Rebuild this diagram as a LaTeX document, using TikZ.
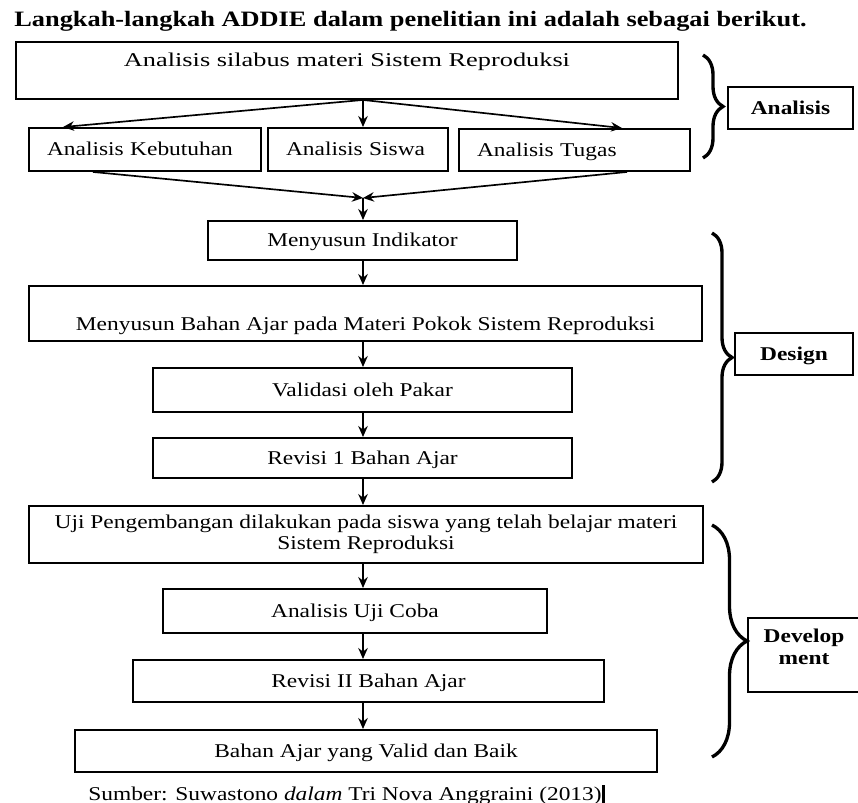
\documentclass[tikz,border=0pt]{standalone}
\usepackage{fontspec}
\setmainfont{Liberation Serif}[FakeStretch=1.2]
\usetikzlibrary{arrows.meta,calc,decorations.pathreplacing}

\begin{document}
\begin{tikzpicture}[x=0.02cm,y=-0.02cm,
  stage/.style={rectangle,draw,line width=1.1pt,font=\fontsize{11.1}{12.5}\selectfont,
    align=center,inner sep=0pt,text height=0.32cm,text depth=0.06cm},
  sub/.style={stage,align=left,inner xsep=0.36cm},
  tag/.style={stage,font=\fontsize{11.1}{12.5}\selectfont\bfseries},
  arr/.style={-{Stealth[length=0.22cm,width=0.19cm]},line width=0.95pt},
  phase/.style={decorate,decoration={brace,amplitude=#1},line width=1.9pt},
]
  \useasboundingbox (0,0) rectangle (858,803);
  \node[anchor=base west,inner sep=0pt,font=\fontsize{12.5}{15}\selectfont\bfseries] (title) at (14,27)
    {Langkah-langkah ADDIE dalam penelitian ini adalah sebagai berikut.};

  \node[stage,minimum width=13.24cm,minimum height=1.14cm,text depth=0.46cm] (silabus) at (347,70.5)
    {\addfontfeatures{FakeStretch=1.35}Analisis silabus materi Sistem Reproduksi};
  \node[sub,minimum width=4.64cm,minimum height=0.86cm,text width=3.92cm] (kebutuhan) at (145,149.5)
    {Analisis Kebutuhan};
  \node[sub,minimum width=3.60cm,minimum height=0.86cm,text width=2.88cm] (siswa) at (358,149.5)
    {Analisis Siswa};
  \node[sub,minimum width=4.62cm,minimum height=0.84cm,text width=3.90cm] (tugas) at (574.5,150)
    {Analisis Tugas};
  \coordinate (split) at ([xshift=0.32cm]silabus.south);
  \coordinate (merge) at (363,198);

  \node[stage,minimum width=6.18cm,minimum height=0.78cm] (indikator) at (362.5,240.5)
    {Menyusun Indikator};
  \node[stage,minimum width=13.46cm,minimum height=1.10cm,text height=0.76cm] (bahan) at (365.5,313.5)
    {Menyusun Bahan Ajar pada Materi Pokok Sistem Reproduksi};
  \node[stage,minimum width=8.38cm,minimum height=0.88cm] (validasi) at (362.5,390)
    {Validasi oleh Pakar};
  \node[stage,minimum width=8.38cm,minimum height=0.80cm] (revisi1) at (362.5,458)
    {Revisi 1 Bahan Ajar};
  \node[stage,minimum width=13.48cm,minimum height=1.14cm,text height=0.68cm] (uji) at (366,534.5)
    {Uji Pengembangan dilakukan pada siswa yang telah belajar materi\\Sistem Reproduksi};
  \node[stage,minimum width=7.68cm,minimum height=0.88cm] (ujicoba) at (355,611)
    {Analisis Uji Coba};
  \node[stage,minimum width=9.42cm,minimum height=0.84cm] (revisi2) at (368.5,681)
    {Revisi II Bahan Ajar};
  \node[stage,minimum width=11.64cm,minimum height=0.84cm] (akhir) at (366,751)
    {Bahan Ajar yang Valid dan Baik};
  \node[anchor=base west,inner sep=0pt,font=\fontsize{11.1}{12.5}\selectfont] (sumber) at (88,800)
    {Sumber: Suwastono \textit{dalam} Tri Nova Anggraini (2013)\rule[-0.1cm]{0.06cm}{0.4cm}};

  \draw[arr] (split) -- ([xshift=-1.64cm]kebutuhan.north);
  \draw[arr] (split) -- (split |- siswa.north);
  \draw[arr] (split) -- ([xshift=0.95cm]tugas.north);
  \draw[arr] ([xshift=-1.04cm]kebutuhan.south) -- (merge);
  \draw[arr] ([xshift=1.05cm]tugas.south) -- (merge);
  \draw[arr] (merge) -- (merge |- indikator.north);
  \draw[arr] (indikator.south -| merge) -- (bahan.north -| merge);
  \draw[arr] (bahan.south -| merge) -- (validasi.north -| merge);
  \draw[arr] (validasi.south -| merge) -- (revisi1.north -| merge);
  \draw[arr] (revisi1.south -| merge) -- (uji.north -| merge);
  \draw[arr] (uji.south -| merge) -- (ujicoba.north -| merge);
  \draw[arr] (ujicoba.south -| merge) -- (revisi2.north -| merge);
  \draw[arr] (revisi2.south -| merge) -- (akhir.north -| merge);

  \draw[phase=0.4cm] (703,55) -- (703,158);
  \draw[phase=0.4cm] (712,233) -- (712,482);
  \draw[phase=0.7cm] (712,525) -- (712,757);
  \node[tag,minimum width=2.50cm,minimum height=0.84cm] (analisis) at (790.5,108) {Analisis};
  \node[tag,minimum width=2.36cm,minimum height=0.84cm] (design) at (794,354) {Design};
  \node[tag,minimum width=2.24cm,minimum height=1.48cm,text height=0.42cm] (development) at (804,655)
    {Develop\\ment};
\end{tikzpicture}
\end{document}
